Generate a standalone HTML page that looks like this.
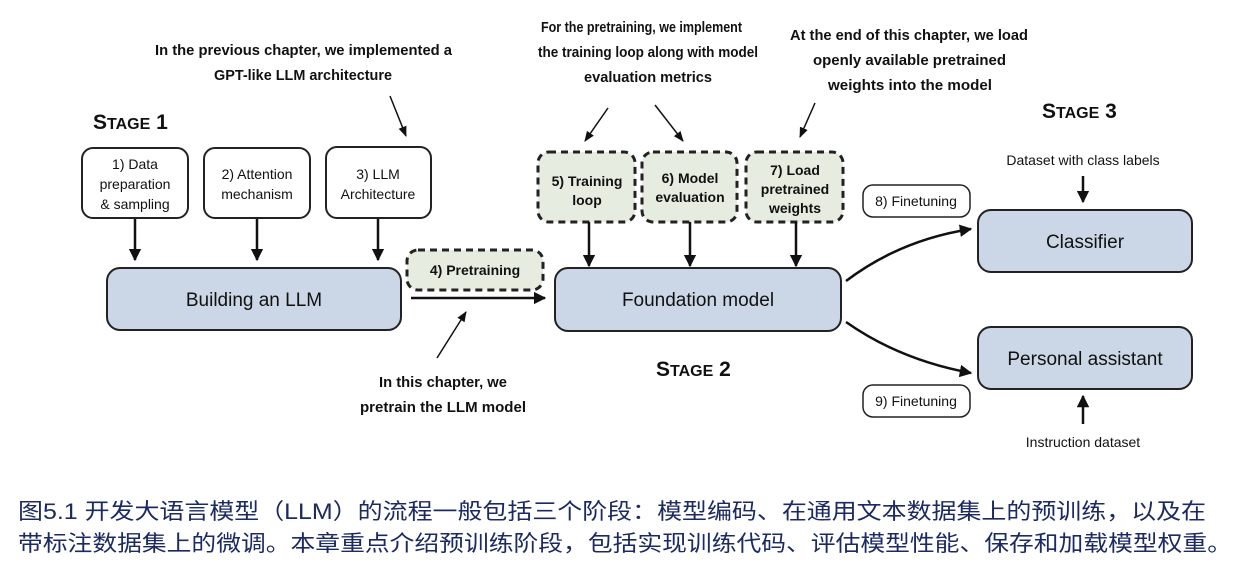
<!DOCTYPE html>
<html><head><meta charset="utf-8"><style>
html,body{margin:0;padding:0;background:#fff;}
svg{display:block;}
.b{font-family:"Liberation Sans",sans-serif;fill:#111;}
.n{font-family:"Liberation Sans Narrow","Liberation Sans",sans-serif;font-weight:bold;font-size:15px;fill:#111;}
.st{font-family:"Liberation Sans",sans-serif;font-weight:bold;fill:#111;}
.cap{font-family:"Liberation Sans","Noto Sans CJK SC",sans-serif;font-size:22px;fill:#1c2a63;}
</style></head><body>
<svg width="1256" height="565" viewBox="0 0 1256 565" xmlns="http://www.w3.org/2000/svg">
<defs>
<marker id="a" viewBox="0 0 10 10" refX="9" refY="5" markerWidth="5" markerHeight="5" orient="auto"><path d="M0,0 L10,5 L0,10 z" fill="#111"/></marker>
<marker id="s" viewBox="0 0 10 10" refX="9" refY="5" markerWidth="7" markerHeight="7" orient="auto"><path d="M0,1 L10,5 L0,9 z" fill="#111"/></marker>
</defs>
<g stroke="#222" stroke-width="2" fill="none">
<rect x="82" y="148" width="106" height="70" rx="11" fill="#fff"/>
<rect x="204" y="148" width="106" height="70" rx="11" fill="#fff"/>
<rect x="326" y="147" width="105" height="71" rx="11" fill="#fff"/>
<rect x="107" y="268" width="294" height="62" rx="13" fill="#cbd7e6"/>
<rect x="555" y="268" width="286" height="63" rx="13" fill="#cbd7e6"/>
<rect x="978" y="210" width="214" height="62" rx="13" fill="#cbd7e6"/>
<rect x="978" y="327" width="214" height="62" rx="13" fill="#cbd7e6"/>
<rect x="863" y="185" width="107" height="32" rx="10" fill="#fff" stroke-width="1.5"/>
<rect x="863" y="385" width="107" height="32" rx="10" fill="#fff" stroke-width="1.5"/>
</g>
<g stroke="#222" stroke-width="3" stroke-dasharray="7,5" fill="#e6ede0">
<rect x="407" y="250" width="136" height="40" rx="11"/>
<rect x="538" y="152" width="97" height="70" rx="11"/>
<rect x="642" y="152" width="95" height="70" rx="11"/>
<rect x="746" y="152" width="97" height="70" rx="11"/>
</g>
<g stroke="#111" stroke-width="2.5" fill="none" marker-end="url(#a)">
<line x1="135" y1="219" x2="135" y2="260"/>
<line x1="257" y1="219" x2="257" y2="260"/>
<line x1="378" y1="219" x2="378" y2="260"/>
<line x1="411" y1="298" x2="545" y2="298"/>
<line x1="589" y1="222" x2="589" y2="266"/>
<line x1="690" y1="222" x2="690" y2="266"/>
<line x1="796" y1="222" x2="796" y2="266"/>
<line x1="1083" y1="176" x2="1083" y2="202"/>
<line x1="1083" y1="424" x2="1083" y2="396"/>
<path d="M846,281 Q900,240 971,229"/>
<path d="M846,322 Q900,360 971,373"/>
</g>
<g stroke="#111" stroke-width="1.5" fill="none" marker-end="url(#s)">
<line x1="390" y1="96" x2="406" y2="136"/>
<line x1="608" y1="108" x2="585" y2="141"/>
<line x1="655" y1="105" x2="683" y2="141"/>
<line x1="815" y1="103" x2="800" y2="137"/>
<line x1="437" y1="358" x2="466" y2="312"/>
</g>
<g class="b" font-size="14" text-anchor="middle">
<text x="135" y="169">1) Data</text><text x="135" y="189">preparation</text><text x="135" y="209">&amp; sampling</text>
<text x="257" y="179">2) Attention</text><text x="257" y="199">mechanism</text>
<text x="378" y="179">3) LLM</text><text x="378" y="199">Architecture</text>
<text x="916" y="206">8) Finetuning</text>
<text x="916" y="406">9) Finetuning</text>
<text x="1083" y="165">Dataset with class labels</text>
<text x="1083" y="447">Instruction dataset</text>
</g>
<g class="b" font-size="14" font-weight="bold" text-anchor="middle">
<text x="475" y="275">4) Pretraining</text>
<text x="587" y="186">5) Training</text><text x="587" y="205">loop</text>
<text x="690" y="183">6) Model</text><text x="690" y="202">evaluation</text>
<text x="795" y="175">7) Load</text><text x="795" y="194">pretrained</text><text x="795" y="213">weights</text>
</g>
<g class="b" font-size="19" text-anchor="middle">
<text x="254" y="306">Building an LLM</text>
<text x="698" y="306">Foundation model</text>
<text x="1085" y="248">Classifier</text>
<text x="1085" y="365">Personal assistant</text>
</g>
<g class="st">
<text x="93" y="129" font-size="21">S<tspan font-size="16">TAGE</tspan> 1</text>
<text x="656" y="376" font-size="21">S<tspan font-size="16">TAGE</tspan> 2</text>
<text x="1042" y="118" font-size="21">S<tspan font-size="16">TAGE</tspan> 3</text>
</g>
<g class="n" lengthAdjust="spacingAndGlyphs">
<text x="155" y="55" textLength="297" lengthAdjust="spacingAndGlyphs">In the previous chapter, we implemented a</text>
<text x="214" y="80" textLength="178" lengthAdjust="spacingAndGlyphs">GPT-like LLM architecture</text>
<text x="541" y="32" textLength="201" lengthAdjust="spacingAndGlyphs">For the pretraining, we implement</text>
<text x="538" y="57" textLength="220" lengthAdjust="spacingAndGlyphs">the training loop along with model</text>
<text x="584" y="82" textLength="128" lengthAdjust="spacingAndGlyphs">evaluation metrics</text>
<text x="790" y="40" textLength="238" lengthAdjust="spacingAndGlyphs">At the end of this chapter, we load</text>
<text x="813" y="65" textLength="193" lengthAdjust="spacingAndGlyphs">openly available pretrained</text>
<text x="828" y="90" textLength="164" lengthAdjust="spacingAndGlyphs">weights into the model</text>
<text x="379" y="387" textLength="128" lengthAdjust="spacingAndGlyphs">In this chapter, we</text>
<text x="360" y="412" textLength="166" lengthAdjust="spacingAndGlyphs">pretrain the LLM model</text>
</g>
<text class="cap" x="18" y="519" textLength="1188" lengthAdjust="spacingAndGlyphs">图5.1 开发大语言模型（LLM）的流程一般包括三个阶段：模型编码、在通用文本数据集上的预训练，以及在</text>
<text class="cap" x="18" y="551" textLength="1214" lengthAdjust="spacingAndGlyphs">带标注数据集上的微调。本章重点介绍预训练阶段，包括实现训练代码、评估模型性能、保存和加载模型权重。</text>
</svg>
</body></html>
